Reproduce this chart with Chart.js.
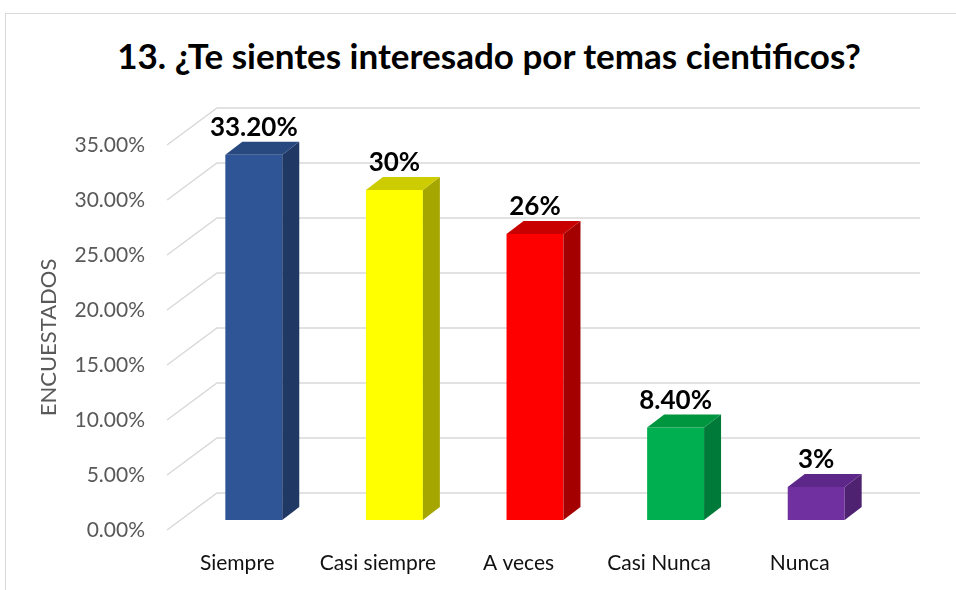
<!DOCTYPE html>
<html>
<head>
<meta charset="utf-8">
<script src="https://cdn.jsdelivr.net/npm/chart.js@4.4.1/dist/chart.umd.min.js"></script>
<style>
  html, body { margin: 0; padding: 0; background: #fff; }
  #wrap { position: relative; width: 956px; height: 590px; overflow: hidden; }
  #frame { position: absolute; left: 5px; top: 13px; width: 1000px; height: 700px;
    border-top: 1.5px solid #d9d9d9; border-left: 1.5px solid #d9d9d9; }
  #title { position: absolute; left: 0; width: 978px; top: 34px; text-align: center;
    font: bold 35px Lato, sans-serif; color: #000; }
  canvas { position: absolute; left: 0; top: 0; }
</style>
</head>
<body>
<div id="wrap">
  <div id="frame"></div>
  <div id="title">13. ¿Te sientes interesado por temas cientificos?</div>
  <canvas id="chart" width="956" height="590"></canvas>
</div>
<script>
const categories = ["Siempre", "Casi siempre", "A veces", "Casi Nunca", "Nunca"];
const values = [33.2, 30, 26, 8.4, 3];
const valueLabels = ["33.20%", "30%", "26%", "8.40%", "3%"];
const frontColors = ["#2F5597", "#FFFF00", "#FF0000", "#00B050", "#7030A0"];
const sideColors = ["#203864", "#A6A600", "#A50000", "#007A38", "#4E2270"];
const topColors = ["#28497F", "#CCCC00", "#C80000", "#00953F", "#5D278A"];
const yMin = 0, yMax = 35, yStep = 5;

// 3d look: bars sit in the middle of the depth, walls run back behind them
const depth = { wallX: 50, wallY: 37, barShiftX: 16.5, barShiftY: 10, barX: 17, barY: 13 };

const gridPlugin = {
  id: "perspectiveGrid",
  beforeDatasetsDraw(chart) {
    const { ctx, chartArea, scales } = chart;
    ctx.save();
    ctx.strokeStyle = "#d9d9d9";
    ctx.lineWidth = 1.5;
    for (let v = yMin; v <= yMax; v += yStep) {
      const y = scales.y.getPixelForValue(v);
      ctx.beginPath();
      ctx.moveTo(chartArea.left, y);
      ctx.lineTo(chartArea.left + depth.wallX, y - depth.wallY);
      ctx.lineTo(chartArea.right + depth.wallX, y - depth.wallY);
      ctx.stroke();
    }
    ctx.restore();
    // move the front faces of the bars into the middle of the depth
    ctx.save();
    ctx.translate(depth.barShiftX, -depth.barShiftY);
  },
  afterDatasetsDraw(chart) {
    const { ctx } = chart;
    ctx.restore();
    const meta = chart.getDatasetMeta(0);
    ctx.save();
    meta.data.forEach((bar, i) => {
      const p = bar.getProps(["x", "y", "base", "width"], true);
      const l = p.x - p.width / 2 + depth.barShiftX;
      const r = p.x + p.width / 2 + depth.barShiftX;
      const t = p.y - depth.barShiftY;
      const b = p.base - depth.barShiftY;
      // side
      ctx.fillStyle = sideColors[i];
      ctx.beginPath();
      ctx.moveTo(r, t);
      ctx.lineTo(r + depth.barX, t - depth.barY);
      ctx.lineTo(r + depth.barX, b - depth.barY);
      ctx.lineTo(r, b);
      ctx.closePath();
      ctx.fill();
      // top
      ctx.fillStyle = topColors[i];
      ctx.beginPath();
      ctx.moveTo(l, t);
      ctx.lineTo(l + depth.barX, t - depth.barY);
      ctx.lineTo(r + depth.barX, t - depth.barY);
      ctx.lineTo(r, t);
      ctx.closePath();
      ctx.fill();
      // value label
      ctx.fillStyle = "#000";
      ctx.font = "bold 26px Lato, sans-serif";
      ctx.textAlign = "center";
      ctx.textBaseline = "alphabetic";
      ctx.fillText(valueLabels[i], (l + r) / 2, t - depth.barY - 6);
    });
    ctx.restore();
  },
};

new Chart(document.getElementById("chart"), {
  type: "bar",
  data: {
    labels: categories,
    datasets: [
      {
        data: values,
        backgroundColor: frontColors,
        borderWidth: 0,
        barPercentage: 0.405,
        categoryPercentage: 1,
      },
    ],
  },
  options: {
    responsive: false,
    animation: false,
    events: [],
    layout: { padding: { top: 145, right: 86, left: 0, bottom: 0 } },
    plugins: { legend: { display: false }, tooltip: { enabled: false } },
    scales: {
      x: {
        grid: { display: false, drawTicks: false },
        border: { display: false },
        ticks: { color: "#111", padding: 21, font: { family: "Lato", size: 21 } },
        afterFit: (scale) => { scale.height = 60; },
      },
      y: {
        min: yMin,
        max: yMax,
        grid: { display: false, drawTicks: false },
        border: { display: false },
        ticks: {
          stepSize: yStep,
          color: "#595959",
          padding: 22,
          font: { family: "Lato", size: 21 },
          callback: (v) => v.toFixed(2) + "%",
        },
        title: {
          display: true,
          text: "ENCUESTADOS",
          color: "#595959",
          font: { family: "Lato", size: 22 },
          padding: { top: 36, bottom: 0 },
        },
        afterFit: (scale) => { scale.width = 167; },
      },
    },
  },
  plugins: [gridPlugin],
});
</script>
</body>
</html>
